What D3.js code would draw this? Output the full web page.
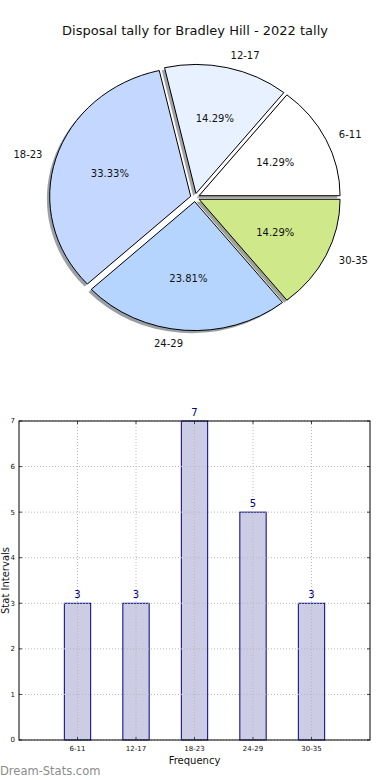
<!DOCTYPE html>
<html>
<head>
    <script src="https://d3js.org/d3.v7.min.js"></script>
    <style>
        body { margin: 0; background: white; }
        text { font-family: "DejaVu Sans", sans-serif; }
    </style>
</head>
<body>
    <script>
        // data
        const categories = ['6-11', '12-17', '18-23', '24-29', '30-35'];
        const counts = [3, 3, 7, 5, 3];
        const sliceColors = ['#ffffff', '#e8f1ff', '#c4d8ff', '#b5d5ff', '#cfe98a'];
        const yTicks = [0, 1, 2, 3, 4, 5, 6, 7];
        const title = 'Disposal tally for Bradley Hill - 2022 tally';

        const width = 390;
        const height = 780;

        const svg = d3.select('body').append('svg')
            .attr('width', width)
            .attr('height', height);

        svg.append('text')
            .attr('x', 195)
            .attr('y', 35)
            .attr('text-anchor', 'middle')
            .style('font-size', '13px')
            .attr('fill', '#111')
            .text(title);

        // ---- pie (elliptical, like matplotlib without equal aspect) ----
        const cx = 195, cy = 197.5, rx = 141, ry = 129;
        const explode = 0.032, shadowOff = 0.02;

        const pie = d3.pie().sort(null)
            .startAngle(Math.PI / 2)
            .endAngle(Math.PI / 2 - 2 * Math.PI);
        const arcs = pie(counts);
        const total = d3.sum(counts);
        const arc = d3.arc().innerRadius(0).outerRadius(1);

        const mid = d => (d.startAngle + d.endAngle) / 2;
        const ux = d => Math.sin(mid(d));
        const uy = d => -Math.cos(mid(d));

        const pieG = svg.append('g');

        // shadows
        pieG.selectAll('path.shadow')
            .data(arcs)
            .enter().append('path')
            .attr('class', 'shadow')
            .attr('d', arc)
            .attr('transform', d => `translate(${cx + ux(d) * explode * rx - shadowOff * rx},${cy + uy(d) * explode * ry + shadowOff * ry}) scale(${rx},${ry})`)
            .attr('fill', (d, i) => { const c = d3.rgb(sliceColors[i]); return d3.rgb(c.r * 0.3, c.g * 0.3, c.b * 0.3); })
            .attr('fill-opacity', 0.5);

        pieG.selectAll('path.slice')
            .data(arcs)
            .enter().append('path')
            .attr('class', 'slice')
            .attr('d', arc)
            .attr('transform', d => `translate(${cx + ux(d) * explode * rx},${cy + uy(d) * explode * ry}) scale(${rx},${ry})`)
            .attr('fill', (d, i) => sliceColors[i])
            .attr('stroke', '#000')
            .attr('stroke-width', 1)
            .attr('vector-effect', 'non-scaling-stroke');

        pieG.selectAll('text.lbl')
            .data(arcs)
            .enter().append('text')
            .attr('class', 'lbl')
            .attr('x', d => cx + ux(d) * (explode + 1.1) * rx)
            .attr('y', d => cy + uy(d) * (explode + 1.1) * ry)
            .attr('dy', '0.35em')
            .attr('text-anchor', d => ux(d) > 0 ? 'start' : 'end')
            .style('font-size', '10px')
            .attr('fill', '#111')
            .text((d, i) => categories[i]);

        pieG.selectAll('text.pct')
            .data(arcs)
            .enter().append('text')
            .attr('class', 'pct')
            .attr('x', d => cx + ux(d) * (explode + 0.6) * rx)
            .attr('y', d => cy + uy(d) * (explode + 0.6) * ry)
            .attr('dy', '0.35em')
            .attr('text-anchor', 'middle')
            .style('font-size', '10px')
            .attr('fill', '#111')
            .text(d => (d.value / total * 100).toFixed(2) + '%');

        // ---- bar chart ----
        const pLeft = 19, pRight = 370, pTop = 421, pBottom = 740;
        const x = d3.scaleLinear().domain([0, categories.length + 1]).range([pLeft, pRight]);
        const y = d3.scaleLinear().domain([0, 7]).range([pBottom, pTop]);
        const barW = 0.45;

        const barG = svg.append('g');

        barG.selectAll('rect.bar')
            .data(counts)
            .enter().append('rect')
            .attr('class', 'bar')
            .attr('x', (d, i) => x(i + 1 - barW / 2))
            .attr('width', x(barW) - x(0))
            .attr('y', d => y(d))
            .attr('height', d => y(0) - y(d))
            .attr('fill', '#ccccE5')
            .attr('stroke', '#00007f')
            .attr('stroke-width', 1);

        // grid (drawn over the bars)
        barG.selectAll('line.hgrid')
            .data(yTicks)
            .enter().append('line')
            .attr('x1', pLeft).attr('x2', pRight)
            .attr('y1', d => y(d)).attr('y2', d => y(d))
            .attr('stroke', '#b8b8b8')
            .attr('stroke-dasharray', '1,2');

        barG.selectAll('line.vgrid')
            .data(categories)
            .enter().append('line')
            .attr('x1', (d, i) => x(i + 1)).attr('x2', (d, i) => x(i + 1))
            .attr('y1', pTop).attr('y2', pBottom)
            .attr('stroke', '#b8b8b8')
            .attr('stroke-dasharray', '1,2');

        // ticks inside the frame
        yTicks.forEach(t => {
            barG.append('line').attr('x1', pLeft).attr('x2', pLeft + 3)
                .attr('y1', y(t)).attr('y2', y(t)).attr('stroke', '#444');
            barG.append('line').attr('x1', pRight - 3).attr('x2', pRight)
                .attr('y1', y(t)).attr('y2', y(t)).attr('stroke', '#444');
        });
        categories.forEach((c, i) => {
            barG.append('line').attr('x1', x(i + 1)).attr('x2', x(i + 1))
                .attr('y1', pBottom).attr('y2', pBottom - 3).attr('stroke', '#444');
            barG.append('line').attr('x1', x(i + 1)).attr('x2', x(i + 1))
                .attr('y1', pTop).attr('y2', pTop + 3).attr('stroke', '#444');
        });

        barG.append('rect')
            .attr('x', pLeft).attr('y', pTop)
            .attr('width', pRight - pLeft).attr('height', pBottom - pTop)
            .attr('fill', 'none')
            .attr('stroke', '#000')
            .attr('stroke-width', 1);

        barG.selectAll('text.ytick')
            .data(yTicks)
            .enter().append('text')
            .attr('x', pLeft - 4)
            .attr('y', d => y(d))
            .attr('dy', '0.35em')
            .attr('text-anchor', 'end')
            .style('font-size', '7px')
            .attr('fill', '#111')
            .text(d => d);

        barG.selectAll('text.xtick')
            .data(categories)
            .enter().append('text')
            .attr('x', (d, i) => x(i + 1))
            .attr('y', pBottom + 11)
            .attr('text-anchor', 'middle')
            .style('font-size', '7px')
            .attr('fill', '#111')
            .text(d => d);

        barG.selectAll('text.val')
            .data(counts)
            .enter().append('text')
            .attr('x', (d, i) => x(i + 1))
            .attr('y', d => y(d) - 5)
            .attr('text-anchor', 'middle')
            .style('font-size', '10px')
            .attr('fill', '#00008b')
            .text(d => d);

        svg.append('text')
            .attr('x', (pLeft + pRight) / 2)
            .attr('y', 764)
            .attr('text-anchor', 'middle')
            .style('font-size', '10px')
            .attr('fill', '#111')
            .text('Frequency');

        svg.append('text')
            .attr('transform', `translate(9,${(pTop + pBottom) / 2}) rotate(-90)`)
            .attr('text-anchor', 'middle')
            .style('font-size', '10px')
            .attr('fill', '#111')
            .text('Stat Intervals');

        svg.append('text')
            .attr('x', 0)
            .attr('y', 775)
            .style('font-size', '11.5px')
            .attr('fill', '#8c8c8c')
            .text('Dream-Stats.com');
    </script>
</body>
</html>
